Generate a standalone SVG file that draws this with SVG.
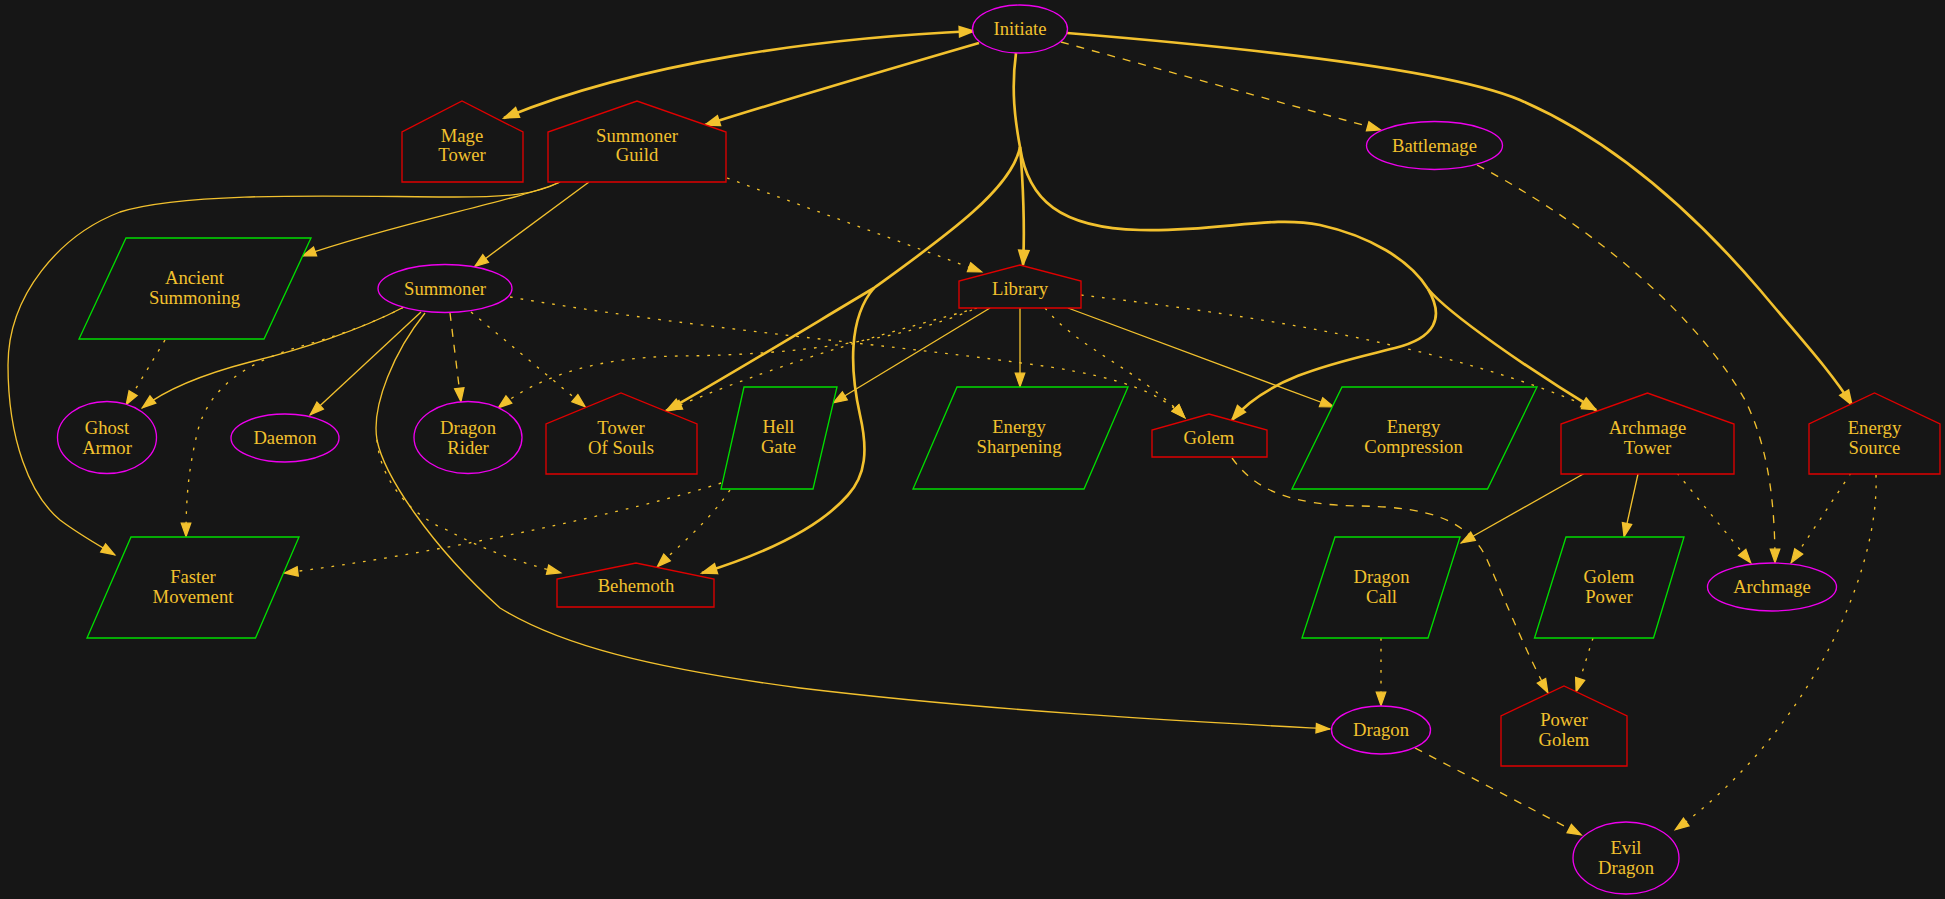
<svg xmlns="http://www.w3.org/2000/svg" width="1945" height="899" viewBox="0 0 1945 899">
<style>
.t{font-family:"Liberation Serif","Times New Roman",serif;font-size:18.67px;fill:#f2c12e;text-anchor:middle}
.e{fill:none;stroke:#f2c12e;stroke-width:1.33}
.b{stroke-width:2.67}
.da{stroke-dasharray:8,8}
.do{stroke-dasharray:2.7,8}
.ea{marker-end:url(#ah)}
.eb{marker-end:url(#ahb)}
.el{fill:#161616;stroke:#ee00ee;stroke-width:1.33}
.h{fill:#161616;stroke:#e00000;stroke-width:1.33}
.p{fill:#161616;stroke:#00dd00;stroke-width:1.33}
</style>
<defs>
<marker id="ah" markerUnits="userSpaceOnUse" markerWidth="20" markerHeight="16" viewBox="-3 -8 20 16" refX="13.8" refY="0" orient="auto">
<path d="M0,-4.7 L13.3,0 L0,4.7 Z" fill="#f2c12e" stroke="#f2c12e" stroke-width="1.33"/>
</marker>
<marker id="ahb" markerUnits="userSpaceOnUse" markerWidth="20" markerHeight="16" viewBox="-3 -8 20 16" refX="14.3" refY="0" orient="auto">
<path d="M0,-4.7 L13.3,0 L0,4.7 Z" fill="#f2c12e" stroke="#f2c12e" stroke-width="2.2"/>
</marker>
<marker id="ahs" markerUnits="userSpaceOnUse" markerWidth="20" markerHeight="16" viewBox="-3 -8 20 16" refX="14.3" refY="0" orient="auto-start-reverse">
<path d="M0,-4.7 L13.3,0 L0,4.7 Z" fill="#f2c12e" stroke="#f2c12e" stroke-width="2.2"/>
</marker>
</defs>
<rect x="0" y="0" width="1945" height="899" fill="#161616"/>
<g id="edges">
<path class="e b eb" d="M974,31 C820,38 640,62 504,118" marker-start="url(#ahs)"/>
<path class="e b eb" d="M979,43 C900,66 790,98 705,125"/>
<path class="e b eb" d="M1016,53 C1011,90 1015,120 1020,147 C1023,180 1025,230 1023,265"/>
<path class="e b eb" d="M1020,147 C1012,190 940,240 874,288 C820,320 730,375 666,411"/>
<path class="e b eb" d="M874,288 C848,318 850,370 860,415 C868,450 866,475 848,495 C820,527 770,552 702,573"/>
<path class="e b" d="M1020,147 C1028,200 1060,228 1140,230 C1220,232 1270,215 1320,225 C1370,236 1410,260 1428,289"/>
<path class="e b eb" d="M1428,289 C1450,315 1530,370 1596,410"/>
<path class="e b eb" d="M1428,289 C1445,318 1435,338 1395,348 C1340,362 1270,375 1232,420"/>
<path class="e b eb" d="M1067,33 C1250,48 1450,70 1520,100 C1620,143 1700,220 1760,290 C1800,338 1830,370 1852,405"/>
<path class="e da ea" d="M1061,42 L1381,130"/>
<path class="e da ea" d="M1477,165 C1600,230 1700,320 1745,400 C1770,450 1775,510 1775,563"/>
<path class="e ea" d="M560,182 C520,200 400,222 302,256"/>
<path class="e ea" d="M560,182 C535,195 505,197 455,197 C360,197 190,190 120,212 C60,235 8,295 8,365 C8,440 30,495 60,520 C80,535 100,546 115,555"/>
<path class="e ea" d="M589,182 L474.5,266.7"/>
<path class="e do ea" d="M727,178 L982,272"/>
<path class="e ea" d="M404,307 C360,330 300,350 250,362 C200,375 165,390 142,408"/>
<path class="e do ea" d="M404,307 C370,325 330,338 298,347 C250,362 210,385 198,430 C188,470 186,500 186,537"/>
<path class="e ea" d="M421,312 L310,415"/>
<path class="e da ea" d="M450,313 L461,402"/>
<path class="e do ea" d="M471,312 L585.5,407"/>
<path class="e ea" d="M425,313 C395,350 371,405 377,440 C384,475 430,545 500,608 C560,645 650,668 800,688 C1000,712 1200,722 1330,729"/>
<path class="e do ea" d="M377,440 C380,480 410,515 447,530 C480,548 520,563 561,573"/>
<path class="e do ea" d="M510,297 C700,330 900,345 1050,367 C1120,378 1160,392 1185,418"/>
<path class="e do ea" d="M977,308 C900,330 800,355 668,410"/>
<path class="e do ea" d="M972,310 C900,340 800,355 680,356 C600,357 540,375 498,408"/>
<path class="e ea" d="M990,308 L833,403"/>
<path class="e ea" d="M1020,308 L1020,387"/>
<path class="e ea" d="M1068,308 L1334,407"/>
<path class="e do ea" d="M1045,308 C1080,350 1140,370 1185,418"/>
<path class="e do ea" d="M1081,295 C1250,315 1450,345 1596,410"/>
<path class="e do ea" d="M721,483 C640,510 430,555 284,573"/>
<path class="e do ea" d="M730,490 C710,520 680,545 657,567"/>
<path class="e do ea" d="M165,340 L126,405"/>
<path class="e da ea" d="M1232,458 C1255,490 1290,505 1360,506 C1430,507 1465,520 1485,555 C1505,600 1525,650 1548,693"/>
<path class="e ea" d="M1585,473 L1461,543"/>
<path class="e ea" d="M1638,474 L1624,537"/>
<path class="e do ea" d="M1677,473 L1751,563"/>
<path class="e do ea" d="M1851,473 L1791,563"/>
<path class="e do ea" d="M1876,475 C1880,580 1800,740 1675,830"/>
<path class="e do ea" d="M1381,638 L1381,706"/>
<path class="e do ea" d="M1593,638 L1576,692"/>
<path class="e da ea" d="M1415,748 L1581.5,835"/>
</g>
<g id="initiate"><ellipse class="el" cx="1020" cy="29" rx="47.5" ry="24"/><text class="t" x="1020" y="35">Initiate</text></g>
<g id="mage-tower"><polygon class="h" points="402,182 402,132 462,101 523,132 523,182"/><text class="t" x="462" y="142">Mage</text><text class="t" x="462" y="161">Tower</text></g>
<g id="summoner-guild"><polygon class="h" points="548,182 548,132 637,101 726,132 726,182"/><text class="t" x="637" y="142">Summoner</text><text class="t" x="637" y="161">Guild</text></g>
<g id="battlemage"><ellipse class="el" cx="1434.5" cy="145.5" rx="68" ry="24"/><text class="t" x="1434.5" y="151.5">Battlemage</text></g>
<g id="ancient-summoning"><polygon class="p" points="126,238 311,238 264,339 79,339"/><text class="t" x="194.5" y="284">Ancient</text><text class="t" x="194.5" y="304">Summoning</text></g>
<g id="summoner"><ellipse class="el" cx="445" cy="288.5" rx="67" ry="24"/><text class="t" x="445" y="294.5">Summoner</text></g>
<g id="library"><polygon class="h" points="959,308 959,281 1020,265 1081,281 1081,308"/><text class="t" x="1020" y="294.5">Library</text></g>
<g id="ghost-armor"><ellipse class="el" cx="107" cy="437.5" rx="49.5" ry="36"/><text class="t" x="107" y="434">Ghost</text><text class="t" x="107" y="454">Armor</text></g>
<g id="daemon"><ellipse class="el" cx="285" cy="438" rx="54" ry="24"/><text class="t" x="285" y="444">Daemon</text></g>
<g id="dragon-rider"><ellipse class="el" cx="468" cy="437.5" rx="54" ry="36"/><text class="t" x="468" y="434">Dragon</text><text class="t" x="468" y="454">Rider</text></g>
<g id="tower-of-souls"><polygon class="h" points="546,474 546,424 621,393 697,424 697,474"/><text class="t" x="621" y="434">Tower</text><text class="t" x="621" y="454">Of Souls</text></g>
<g id="hell-gate"><polygon class="p" points="744,387 837,387 813,489 721,489"/><text class="t" x="778.5" y="433">Hell</text><text class="t" x="778.5" y="453">Gate</text></g>
<g id="energy-sharpening"><polygon class="p" points="957,387 1128,387 1084,489 913,489"/><text class="t" x="1019" y="433">Energy</text><text class="t" x="1019" y="453">Sharpening</text></g>
<g id="golem"><polygon class="h" points="1152,457 1152,430 1209,414 1267,430 1267,457"/><text class="t" x="1209" y="443.5">Golem</text></g>
<g id="energy-compression"><polygon class="p" points="1342,387 1537,387 1487.5,489 1292,489"/><text class="t" x="1413.5" y="433">Energy</text><text class="t" x="1413.5" y="453">Compression</text></g>
<g id="archmage-tower"><polygon class="h" points="1561,474 1561,424 1647.5,393 1734,424 1734,474"/><text class="t" x="1647.5" y="434">Archmage</text><text class="t" x="1647.5" y="454">Tower</text></g>
<g id="energy-source"><polygon class="h" points="1809,474 1809,424 1874.5,393 1940,424 1940,474"/><text class="t" x="1874.5" y="434">Energy</text><text class="t" x="1874.5" y="454">Source</text></g>
<g id="faster-movement"><polygon class="p" points="131,537 299,537 255.5,638 87,638"/><text class="t" x="193" y="583">Faster</text><text class="t" x="193" y="603">Movement</text></g>
<g id="behemoth"><polygon class="h" points="557,607 557,579 636,563 714,579 714,607"/><text class="t" x="636" y="592">Behemoth</text></g>
<g id="dragon-call"><polygon class="p" points="1335,537 1460,537 1428,638 1302,638"/><text class="t" x="1381.5" y="583">Dragon</text><text class="t" x="1381.5" y="603">Call</text></g>
<g id="golem-power"><polygon class="p" points="1566,537 1684,537 1653.5,638 1534.5,638"/><text class="t" x="1609" y="583">Golem</text><text class="t" x="1609" y="603">Power</text></g>
<g id="archmage"><ellipse class="el" cx="1772" cy="587" rx="64.5" ry="24"/><text class="t" x="1772" y="592.5">Archmage</text></g>
<g id="dragon"><ellipse class="el" cx="1381" cy="730" rx="49.5" ry="24"/><text class="t" x="1381" y="735.5">Dragon</text></g>
<g id="power-golem"><polygon class="h" points="1501,766 1501,716 1564,686 1627,716 1627,766"/><text class="t" x="1564" y="725.5">Power</text><text class="t" x="1564" y="745.5">Golem</text></g>
<g id="evil-dragon"><ellipse class="el" cx="1626" cy="858" rx="53" ry="36"/><text class="t" x="1626" y="854">Evil</text><text class="t" x="1626" y="874">Dragon</text></g>
</svg>
